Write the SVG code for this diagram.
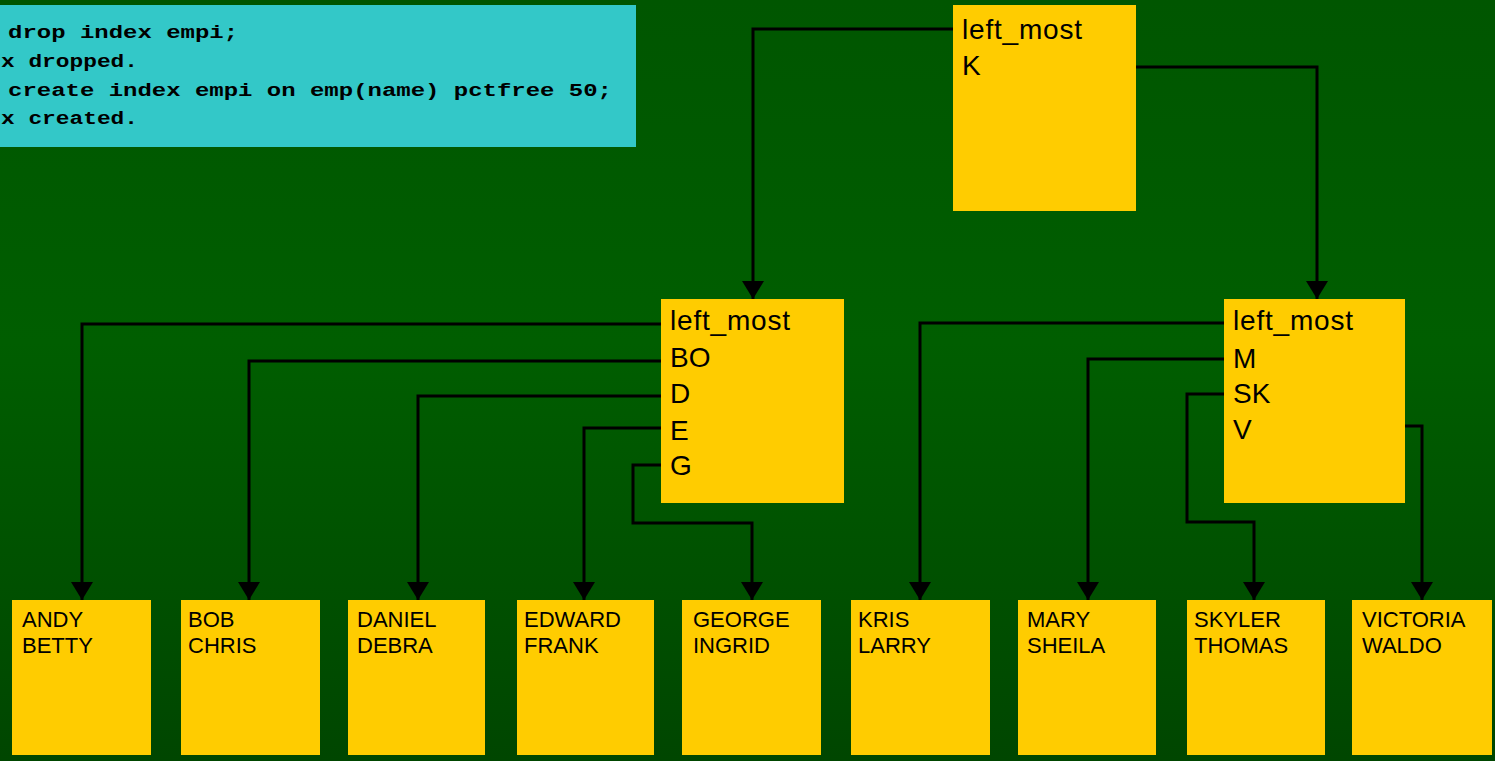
<svg xmlns="http://www.w3.org/2000/svg" width="1495" height="761" viewBox="0 0 1495 761">
<defs>
<linearGradient id="bg" x1="0" y1="0" x2="0" y2="1">
<stop offset="0" stop-color="#005600"/>
<stop offset="0.45" stop-color="#005e00"/>
<stop offset="1" stop-color="#004600"/>
</linearGradient>
<marker id="arr" markerUnits="userSpaceOnUse" viewBox="0 0 18 22" refX="18" refY="11" markerWidth="18" markerHeight="22" orient="auto">
<path d="M0,0 L18,11 L0,22 z" fill="#000"/>
</marker>
<style>
.box{fill:#ffcc00}
.t{font-family:"Liberation Sans",Arial,sans-serif;fill:#000}
.big{font-size:28px}
.small{font-size:22px}
.code{font-family:"Liberation Mono","Courier New",monospace;font-weight:bold;font-size:18px;fill:#000}
.c{fill:none;stroke:#000;stroke-width:3;marker-end:url(#arr)}
</style>
</defs>
<rect width="1495" height="761" fill="url(#bg)"/>

<g id="sql">
<rect x="0" y="5" width="636" height="142" fill="#33c8c8"/>
<text class="code" x="8" y="38" textLength="230" lengthAdjust="spacingAndGlyphs">drop index empi;</text>
<text class="code" x="1" y="67" textLength="137" lengthAdjust="spacingAndGlyphs">x dropped.</text>
<text class="code" x="8" y="96" textLength="604" lengthAdjust="spacingAndGlyphs">create index empi on emp(name) pctfree 50;</text>
<text class="code" x="1" y="124" textLength="137" lengthAdjust="spacingAndGlyphs">x created.</text>
</g>

<g id="connectors">
<path class="c" d="M953,29 H753 V299"/>
<path class="c" d="M1136,67 H1317 V299"/>
<path class="c" d="M661,324 H82 V600"/>
<path class="c" d="M661,361 H249 V600"/>
<path class="c" d="M661,396 H418 V600"/>
<path class="c" d="M661,428 H584 V600"/>
<path class="c" d="M661,465 H633 V523 H752 V600"/>
<path class="c" d="M1224,323 H920 V600"/>
<path class="c" d="M1224,359 H1088 V600"/>
<path class="c" d="M1224,394 H1187 V522 H1254 V600"/>
<path class="c" d="M1405,426 H1422 V600"/>
</g>

<g id="root">
<rect class="box" x="953" y="5" width="183" height="206"/>
<text class="t big" x="962" y="39" textLength="120">left_most</text>
<text class="t big" x="962" y="75">K</text>
</g>

<g id="branch-left">
<rect class="box" x="661" y="299" width="183" height="204"/>
<text class="t big" x="670" y="330" textLength="120">left_most</text>
<text class="t big" x="670" y="367">BO</text>
<text class="t big" x="670" y="403">D</text>
<text class="t big" x="670" y="440">E</text>
<text class="t big" x="670" y="475">G</text>
</g>

<g id="branch-right">
<rect class="box" x="1224" y="299" width="181" height="204"/>
<text class="t big" x="1233" y="330" textLength="120">left_most</text>
<text class="t big" x="1233" y="368">M</text>
<text class="t big" x="1233" y="403">SK</text>
<text class="t big" x="1233" y="439">V</text>
</g>

<g id="leaf-andy">
<rect class="box" x="12" y="600" width="139" height="155"/>
<text class="t small" x="22" y="627">ANDY</text>
<text class="t small" x="22" y="653">BETTY</text>
</g>
<g id="leaf-bob">
<rect class="box" x="181" y="600" width="139" height="155"/>
<text class="t small" x="188" y="627">BOB</text>
<text class="t small" x="188" y="653">CHRIS</text>
</g>
<g id="leaf-daniel">
<rect class="box" x="348" y="600" width="137" height="155"/>
<text class="t small" x="357" y="627">DANIEL</text>
<text class="t small" x="357" y="653">DEBRA</text>
</g>
<g id="leaf-edward">
<rect class="box" x="517" y="600" width="137" height="155"/>
<text class="t small" x="524" y="627">EDWARD</text>
<text class="t small" x="524" y="653">FRANK</text>
</g>
<g id="leaf-george">
<rect class="box" x="682" y="600" width="139" height="155"/>
<text class="t small" x="693" y="627">GEORGE</text>
<text class="t small" x="693" y="653">INGRID</text>
</g>
<g id="leaf-kris">
<rect class="box" x="851" y="600" width="139" height="155"/>
<text class="t small" x="858" y="627">KRIS</text>
<text class="t small" x="858" y="653">LARRY</text>
</g>
<g id="leaf-mary">
<rect class="box" x="1018" y="600" width="138" height="155"/>
<text class="t small" x="1027" y="627">MARY</text>
<text class="t small" x="1027" y="653">SHEILA</text>
</g>
<g id="leaf-skyler">
<rect class="box" x="1187" y="600" width="138" height="155"/>
<text class="t small" x="1194" y="627">SKYLER</text>
<text class="t small" x="1194" y="653">THOMAS</text>
</g>
<g id="leaf-victoria">
<rect class="box" x="1352" y="600" width="140" height="155"/>
<text class="t small" x="1362" y="627">VICTORIA</text>
<text class="t small" x="1362" y="653">WALDO</text>
</g>
</svg>
